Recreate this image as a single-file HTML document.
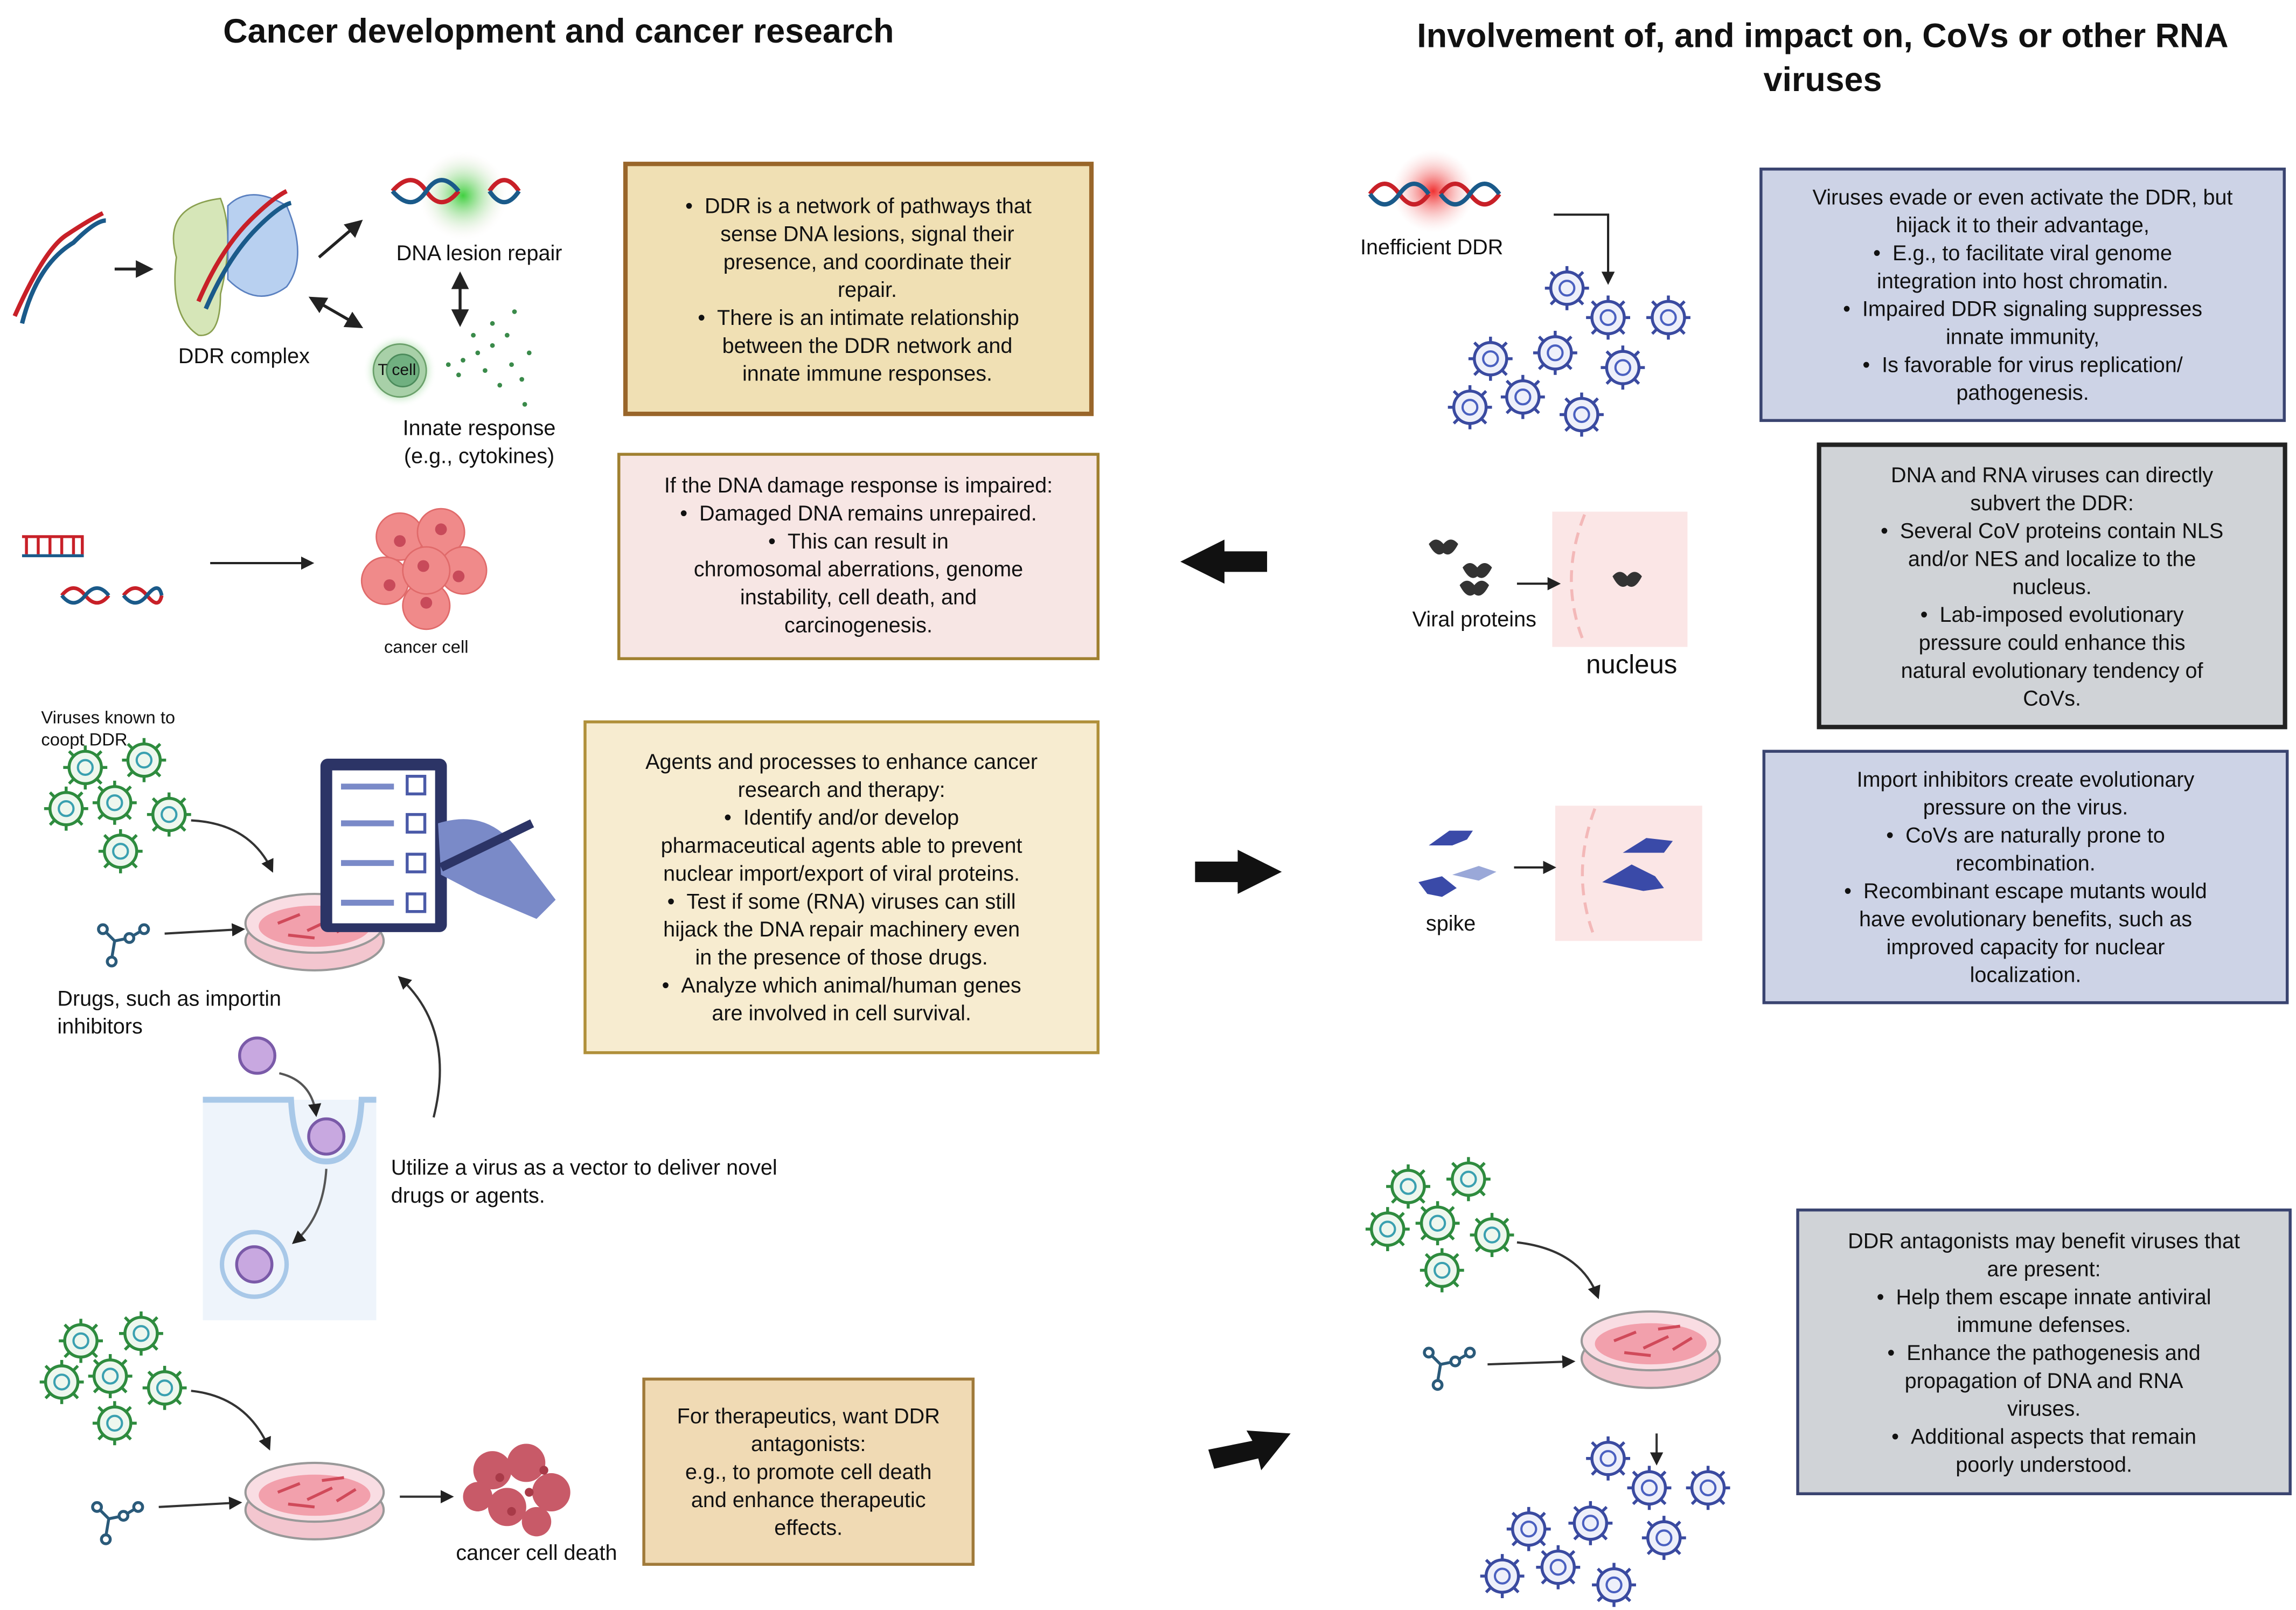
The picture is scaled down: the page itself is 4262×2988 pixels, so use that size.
<!DOCTYPE html>
<html><head><meta charset="utf-8"><style>
html,body{margin:0;padding:0;background:#fff;}
#w{position:relative;width:1562px;height:1095px;transform:scale(2.7286);transform-origin:0 0;font-family:"Liberation Sans",sans-serif;color:#111;}
.t{position:absolute;font-size:14.5px;line-height:19px;white-space:nowrap;}
.c{text-align:center;}
.box{position:absolute;box-sizing:border-box;text-align:center;font-size:14.5px;line-height:19px;white-space:nowrap;}
svg{position:absolute;left:0;top:0;}
h1{position:absolute;margin:0;font-size:23px;font-weight:bold;line-height:30px;text-align:center;white-space:nowrap;}
</style></head><body><div id="w">
<svg width="1562" height="1095" viewBox="0 0 1562 1095">
<defs>
<g id="vg"><circle r="11" fill="#eef7ee" stroke="#2e8b3e" stroke-width="2"/><g stroke="#2e8b3e" stroke-width="2"><line x1="0" y1="-11" x2="0" y2="-15"/><line x1="0" y1="11" x2="0" y2="15"/><line x1="-11" y1="0" x2="-15" y2="0"/><line x1="11" y1="0" x2="15" y2="0"/><line x1="8" y1="8" x2="11" y2="11"/><line x1="-8" y1="8" x2="-11" y2="11"/><line x1="8" y1="-8" x2="11" y2="-11"/><line x1="-8" y1="-8" x2="-11" y2="-11"/></g><circle r="5" fill="none" stroke="#3aa0b0" stroke-width="1.5"/></g>
<g id="vb"><circle r="11" fill="#eef0fa" stroke="#3a4aa0" stroke-width="2"/><g stroke="#3a4aa0" stroke-width="2"><line x1="0" y1="-11" x2="0" y2="-15"/><line x1="0" y1="11" x2="0" y2="15"/><line x1="-11" y1="0" x2="-15" y2="0"/><line x1="11" y1="0" x2="15" y2="0"/><line x1="8" y1="8" x2="11" y2="11"/><line x1="-8" y1="8" x2="-11" y2="11"/><line x1="8" y1="-8" x2="11" y2="-11"/><line x1="-8" y1="-8" x2="-11" y2="-11"/></g><circle r="5" fill="none" stroke="#4a60c0" stroke-width="1.5"/></g>
<g id="dish"><ellipse cx="0" cy="12" rx="47" ry="20" fill="#f3c6cf" stroke="#999" stroke-width="1.5"/><ellipse cx="0" cy="0" rx="47" ry="20" fill="#f9dde3" stroke="#999" stroke-width="1.5"/><ellipse cx="0" cy="2" rx="38" ry="14" fill="#f2a0ac"/><g stroke="#d04a5a" stroke-width="2"><line x1="-25" y1="0" x2="-10" y2="-6"/><line x1="-5" y1="5" x2="12" y2="-3"/><line x1="15" y1="6" x2="28" y2="-2"/><line x1="-18" y1="8" x2="0" y2="10"/><line x1="5" y1="-8" x2="20" y2="-10"/></g></g>
<g id="drug" stroke="#2a5a7a" stroke-width="2" fill="#fff"><line x1="0" y1="0" x2="8" y2="8"/><line x1="8" y1="8" x2="18" y2="6"/><line x1="18" y1="6" x2="28" y2="0"/><line x1="8" y1="8" x2="6" y2="20"/><circle cx="0" cy="0" r="3"/><circle cx="18" cy="6" r="3"/><circle cx="28" cy="0" r="3"/><circle cx="6" cy="22" r="3"/></g>
<marker id="ah" viewBox="0 0 10 10" refX="8" refY="5" markerWidth="6" markerHeight="6" orient="auto-start-reverse"><path d="M0 0L10 5L0 10z" fill="#222"/></marker>
<radialGradient id="gg"><stop offset="0" stop-color="#40d040"/><stop offset="1" stop-color="#f6e8e6" stop-opacity="0"/></radialGradient>
<radialGradient id="rg"><stop offset="0" stop-color="#f03030"/><stop offset="1" stop-color="#f8d0d0" stop-opacity="0"/></radialGradient>
<radialGradient id="tg"><stop offset="0.6" stop-color="#60c060" stop-opacity=".6"/><stop offset="1" stop-color="#fff" stop-opacity="0"/></radialGradient>
</defs>
<!-- top-left DNA -->
<path d="M10 215 Q30 170 45 160 Q60 150 70 145" stroke="#c82028" stroke-width="3" fill="none"/>
<path d="M15 220 Q25 180 50 165 Q65 150 72 150" stroke="#1a5a8a" stroke-width="3" fill="none"/>
<line x1="78" y1="183" x2="102" y2="183" stroke="#222" stroke-width="2" marker-end="url(#ah)"/>
<path d="M120 175 Q110 140 150 135 Q160 160 150 200 Q150 230 135 228 Q115 215 120 175z" fill="#d6e6b8" stroke="#8aa050"/>
<path d="M155 140 Q170 125 195 140 Q210 175 195 195 Q175 210 155 190z" fill="#b8d0f0" stroke="#5a80c0"/>
<path d="M135 205 Q150 170 170 150 Q185 135 195 130" stroke="#c82028" stroke-width="3" fill="none"/>
<path d="M140 210 Q155 175 175 155 Q190 140 198 138" stroke="#1a5a8a" stroke-width="3" fill="none"/>
<line x1="217" y1="175" x2="245" y2="151" stroke="#222" stroke-width="2" marker-end="url(#ah)"/>
<line x1="212" y1="203" x2="245" y2="222" stroke="#222" stroke-width="2" marker-end="url(#ah)" marker-start="url(#ah)"/>
<line x1="313" y1="187" x2="313" y2="220" stroke="#222" stroke-width="2" marker-end="url(#ah)" marker-start="url(#ah)"/>
<circle cx="315" cy="133" r="30" fill="url(#gg)"/>
<path d="M267 130 Q280 115 290 130 T312 130 M333 130 Q343 115 353 130" stroke="#c82028" stroke-width="3" fill="none"/>
<path d="M267 130 Q280 145 290 130 T312 130 M333 130 Q343 145 353 130" stroke="#1a5a8a" stroke-width="3" fill="none"/>
<circle cx="272" cy="252" r="25" fill="url(#tg)"/>
<circle cx="272" cy="252" r="18" fill="#a8d0a8" stroke="#6aa06a"/><circle cx="274" cy="252" r="11" fill="#70b080" stroke="#4a8a5a"/>
<g fill="#3a8a4a"><circle cx="305" cy="248" r="1.6"/><circle cx="315" cy="245" r="1.6"/><circle cx="325" cy="240" r="1.6"/><circle cx="335" cy="235" r="1.6"/><circle cx="345" cy="228" r="1.6"/><circle cx="312" cy="255" r="1.6"/><circle cx="330" cy="252" r="1.6"/><circle cx="348" cy="248" r="1.6"/><circle cx="340" cy="262" r="1.6"/><circle cx="355" cy="258" r="1.6"/><circle cx="322" cy="228" r="1.6"/><circle cx="350" cy="212" r="1.6"/><circle cx="357" cy="275" r="1.6"/><circle cx="335" cy="220" r="1.6"/><circle cx="360" cy="240" r="1.6"/></g>
<!-- row 2 -->
<g stroke="#c82028" stroke-width="2"><line x1="15" y1="365" x2="57" y2="365"/><line x1="18" y1="365" x2="18" y2="377"/><line x1="26" y1="365" x2="26" y2="377"/><line x1="34" y1="365" x2="34" y2="377"/><line x1="42" y1="365" x2="42" y2="377"/><line x1="50" y1="365" x2="50" y2="377"/><line x1="56" y1="365" x2="56" y2="377"/></g>
<line x1="15" y1="378" x2="57" y2="378" stroke="#1a5a8a" stroke-width="2"/>
<path d="M42 405 Q50 395 58 405 T74 405 M84 405 Q92 395 100 405 T110 405" stroke="#c82028" stroke-width="2.5" fill="none"/>
<path d="M42 405 Q50 415 58 405 T74 405 M84 405 Q92 415 100 405 T110 405" stroke="#1a5a8a" stroke-width="2.5" fill="none"/>
<line x1="143" y1="383" x2="212" y2="383" stroke="#222" stroke-width="1.5" marker-end="url(#ah)"/>
<g fill="#f08a8a" stroke="#e06a6a"><circle cx="272" cy="365" r="16"/><circle cx="300" cy="362" r="16"/><circle cx="315" cy="388" r="16"/><circle cx="262" cy="395" r="16"/><circle cx="290" cy="412" r="16"/><circle cx="290" cy="388" r="16"/></g>
<g fill="#c84a5a"><circle cx="272" cy="368" r="4"/><circle cx="300" cy="360" r="4"/><circle cx="312" cy="392" r="4"/><circle cx="265" cy="398" r="4"/><circle cx="290" cy="410" r="4"/><circle cx="288" cy="385" r="4"/></g>
<!-- block arrows -->
<path d="M803 382 L833 367 L833 375 L862 375 L862 389 L833 389 L833 397z" fill="#111"/>
<path d="M872 593 L842 578 L842 586 L813 586 L813 600 L842 600 L842 608z" fill="#111"/>
<path d="M878 975 L848 973 L852 980 L822 986 L826 999 L856 992 L858 1000z" fill="#111"/>
<!-- row 3 left -->
<use href="#vg" x="58" y="522" transform="scale(1)"/><use href="#vg" x="98" y="517"/><use href="#vg" x="45" y="550"/><use href="#vg" x="78" y="546"/><use href="#vg" x="115" y="554"/><use href="#vg" x="82" y="579"/>
<path d="M130 558 Q170 560 185 592" stroke="#333" stroke-width="1.5" fill="none" marker-end="url(#ah)"/>
<use href="#dish" x="214" y="628"/>
<use href="#drug" x="70" y="632"/>
<line x1="112" y1="635" x2="165" y2="632" stroke="#333" stroke-width="1.5" marker-end="url(#ah)"/>
<rect x="218" y="516" width="86" height="118" rx="5" fill="#2c3466"/><rect x="226" y="524" width="70" height="104" fill="#fff"/>
<g stroke="#7a8ac8" stroke-width="4"><line x1="232" y1="535" x2="268" y2="535"/><line x1="232" y1="560" x2="268" y2="560"/><line x1="232" y1="587" x2="268" y2="587"/><line x1="232" y1="614" x2="268" y2="614"/></g>
<g fill="none" stroke="#4a5aa8" stroke-width="2"><rect x="277" y="528" width="12" height="12"/><rect x="277" y="554" width="12" height="12"/><rect x="277" y="581" width="12" height="12"/><rect x="277" y="608" width="12" height="12"/></g>
<path d="M298 560 Q330 550 350 575 L378 612 L365 625 L325 608 L300 595z" fill="#7a8ac8"/>
<line x1="300" y1="590" x2="362" y2="560" stroke="#2c3466" stroke-width="6"/>
<path d="M295 760 Q310 700 272 665" stroke="#333" stroke-width="1.5" fill="none" marker-end="url(#ah)"/>
<rect x="138" y="748" width="118" height="150" fill="#eef4fb"/>
<path d="M138 748 L198 748 Q200 790 222 790 Q244 790 246 748 L256 748" stroke="#a8c8e8" stroke-width="4" fill="none"/>
<circle cx="175" cy="718" r="12" fill="#c8a8e0" stroke="#7a5aa8" stroke-width="2"/>
<circle cx="222" cy="773" r="12" fill="#c8a8e0" stroke="#7a5aa8" stroke-width="2"/>
<circle cx="173" cy="860" r="22" fill="none" stroke="#a8c8e8" stroke-width="3"/>
<circle cx="173" cy="860" r="12" fill="#c8a8e0" stroke="#7a5aa8" stroke-width="2"/>
<path d="M190 730 Q212 735 215 758" stroke="#555" stroke-width="1.5" fill="none" marker-end="url(#ah)"/>
<path d="M222 795 Q220 828 200 845" stroke="#555" stroke-width="1.5" fill="none" marker-end="url(#ah)"/>
<!-- row 4 left -->
<use href="#vg" x="55" y="912"/><use href="#vg" x="96" y="907"/><use href="#vg" x="42" y="940"/><use href="#vg" x="75" y="936"/><use href="#vg" x="112" y="944"/><use href="#vg" x="78" y="968"/>
<path d="M130 946 Q168 950 183 985" stroke="#333" stroke-width="1.5" fill="none" marker-end="url(#ah)"/>
<use href="#dish" x="214" y="1015"/>
<use href="#drug" x="66" y="1025"/>
<line x1="108" y1="1025" x2="163" y2="1022" stroke="#333" stroke-width="1.5" marker-end="url(#ah)"/>
<line x1="272" y1="1018" x2="307" y2="1018" stroke="#333" stroke-width="1.5" marker-end="url(#ah)"/>
<g fill="#c85a68"><circle cx="335" cy="1000" r="13"/><circle cx="358" cy="995" r="13"/><circle cx="375" cy="1015" r="13"/><circle cx="345" cy="1025" r="13"/><circle cx="325" cy="1018" r="10"/><circle cx="365" cy="1035" r="10"/></g>
<g fill="#a83a48"><circle cx="340" cy="1005" r="3"/><circle cx="360" cy="1015" r="3"/><circle cx="348" cy="1028" r="3"/><circle cx="370" cy="1000" r="3"/></g>
<!-- right top -->
<circle cx="975" cy="130" r="28" fill="url(#rg)"/>
<path d="M932 132 Q942 118 952 132 T972 132 M980 132 Q990 118 1000 132 T1020 132" stroke="#c82028" stroke-width="3" fill="none"/>
<path d="M932 132 Q942 146 952 132 T972 132 M980 132 Q990 146 1000 132 T1020 132" stroke="#1a5a8a" stroke-width="3" fill="none"/>
<path d="M1057 146 L1094 146 L1094 192" stroke="#222" stroke-width="1.5" fill="none" marker-end="url(#ah)"/>
<use href="#vb" x="1066" y="196"/><use href="#vb" x="1094" y="216"/><use href="#vb" x="1135" y="216"/><use href="#vb" x="1014" y="244"/><use href="#vb" x="1058" y="240"/><use href="#vb" x="1104" y="250"/><use href="#vb" x="1000" y="277"/><use href="#vb" x="1036" y="270"/><use href="#vb" x="1076" y="282"/>
<!-- right row 2 -->
<rect x="1056" y="348" width="92" height="92" fill="#fbe6e6"/>
<path d="M1078 350 Q1060 395 1078 438" stroke="#f3b8b8" stroke-width="2" stroke-dasharray="8 5" fill="none"/>
<g fill="#333"><path d="M972 370 q5 -6 10 0 q5 -6 10 0 q-5 10 -10 6 q-5 4 -10 -6z"/><path d="M995 386 q5 -6 10 0 q5 -6 10 0 q-5 10 -10 6 q-5 4 -10 -6z"/><path d="M993 398 q5 -6 10 0 q5 -6 10 0 q-5 10 -10 6 q-5 4 -10 -6z"/><path d="M1097 392 q5 -6 10 0 q5 -6 10 0 q-5 10 -10 6 q-5 4 -10 -6z"/></g>
<line x1="1032" y1="397" x2="1060" y2="397" stroke="#222" stroke-width="1.5" marker-end="url(#ah)"/>
<!-- right row 3 -->
<rect x="1058" y="548" width="100" height="92" fill="#fbe6e6"/>
<path d="M1085 550 Q1068 595 1085 638" stroke="#f3b8b8" stroke-width="2" stroke-dasharray="8 5" fill="none"/>
<g fill="#3a4aa8"><path d="M972 575 l14 -10 l16 0 l-4 6 l-10 4z"/><path d="M965 600 l16 -4 l10 8 l-10 6 l-10 -2z"/><path d="M1104 580 l16 -10 l18 2 l-6 8z"/><path d="M1090 600 l20 -12 l16 8 l6 8 l-14 2z"/></g>
<path d="M988 595 l18 -6 l12 4 l-12 6z" fill="#9aa8d8"/>
<line x1="1030" y1="590" x2="1057" y2="590" stroke="#222" stroke-width="1.5" marker-end="url(#ah)"/>
<!-- right bottom -->
<use href="#vg" x="958" y="807"/><use href="#vg" x="999" y="802"/><use href="#vg" x="944" y="836"/><use href="#vg" x="978" y="832"/><use href="#vg" x="1015" y="840"/><use href="#vg" x="981" y="864"/>
<path d="M1032 845 Q1075 850 1087 882" stroke="#333" stroke-width="1.5" fill="none" marker-end="url(#ah)"/>
<use href="#dish" x="1123" y="912"/>
<use href="#drug" x="972" y="920"/>
<line x1="1012" y1="928" x2="1070" y2="926" stroke="#333" stroke-width="1.5" marker-end="url(#ah)"/>
<line x1="1127" y1="975" x2="1127" y2="995" stroke="#333" stroke-width="1.5" marker-end="url(#ah)"/>
<use href="#vb" x="1094" y="992"/><use href="#vb" x="1122" y="1012"/><use href="#vb" x="1162" y="1012"/><use href="#vb" x="1040" y="1040"/><use href="#vb" x="1082" y="1036"/><use href="#vb" x="1132" y="1046"/><use href="#vb" x="1022" y="1072"/><use href="#vb" x="1060" y="1066"/><use href="#vb" x="1098" y="1078"/>
</svg>

<h1 style="left:80px;top:6px;width:600px;">Cancer development and cancer research</h1>
<h1 style="left:940px;top:9px;width:600px;">Involvement of, and impact on, CoVs or other RNA<br>viruses</h1>

<div class="t c" style="left:246px;top:164px;width:160px;">DNA lesion repair</div>
<div class="t c" style="left:96px;top:234px;width:140px;">DDR complex</div>
<div class="t" style="left:257px;top:245px;font-size:11px;line-height:14px;">T cell</div>
<div class="t c" style="left:246px;top:283px;width:160px;">Innate response<br>(e.g., cytokines)</div>
<div class="t c" style="left:240px;top:433px;width:100px;font-size:12px;line-height:15px;">cancer cell</div>
<div class="t" style="left:28px;top:481px;font-size:12px;line-height:15px;">Viruses known to<br>coopt DDR</div>
<div class="t" style="left:39px;top:671px;">Drugs, such as importin<br>inhibitors</div>
<div class="t" style="left:266px;top:786px;">Utilize a virus as a vector to deliver novel<br>drugs or agents.</div>
<div class="t c" style="left:295px;top:1048px;width:140px;">cancer cell death</div>
<div class="t c" style="left:904px;top:160px;width:140px;">Inefficient DDR</div>
<div class="t c" style="left:943px;top:413px;width:120px;">Viral proteins</div>
<div class="t c" style="left:1060px;top:441px;width:100px;font-size:18px;line-height:22px;">nucleus</div>
<div class="t c" style="left:947px;top:620px;width:80px;">spike</div>

<div class="box" style="left:424px;top:110px;width:320px;height:173px;background:#f0e0b4;border:3px solid #99662a;padding-top:19px;">•&nbsp;&nbsp;DDR is a network of pathways that<br>&nbsp;&nbsp;&nbsp;sense DNA lesions, signal their<br>&nbsp;&nbsp;&nbsp;presence, and coordinate their<br>&nbsp;&nbsp;&nbsp;repair.<br>•&nbsp;&nbsp;There is an intimate relationship<br>&nbsp;&nbsp;&nbsp;between the DDR network and<br>&nbsp;&nbsp;&nbsp;innate immune responses.</div>
<div class="box" style="left:420px;top:308px;width:328px;height:141px;background:#f7e6e4;border:2px solid #a08030;padding-top:12px;">If the DNA damage response is impaired:<br>•&nbsp;&nbsp;Damaged DNA remains unrepaired.<br>•&nbsp;&nbsp;This can result in<br>chromosomal aberrations, genome<br>instability, cell death, and<br>carcinogenesis.</div>
<div class="box" style="left:397px;top:490px;width:351px;height:227px;background:#f7ecd0;border:2px solid #b0903a;padding-top:18px;">Agents and processes to enhance cancer<br>research and therapy:<br>•&nbsp;&nbsp;Identify and/or develop<br>pharmaceutical agents able to prevent<br>nuclear import/export of viral proteins.<br>•&nbsp;&nbsp;Test if some (RNA) viruses can still<br>hijack the DNA repair machinery even<br>in the presence of those drugs.<br>•&nbsp;&nbsp;Analyze which animal/human genes<br>are involved in cell survival.</div>
<div class="box" style="left:437px;top:937px;width:226px;height:128px;background:#f0dab4;border:2px solid #a07a3a;padding-top:16px;">For therapeutics, want DDR<br>antagonists:<br>e.g., to promote cell death<br>and enhance therapeutic<br>effects.</div>
<div class="box" style="left:1197px;top:114px;width:358px;height:173px;background:#cdd3e6;border:2px solid #3a4470;padding-top:10px;">Viruses evade or even activate the DDR, but<br>hijack it to their advantage,<br>•&nbsp;&nbsp;E.g., to facilitate viral genome<br>integration into host chromatin.<br>•&nbsp;&nbsp;Impaired DDR signaling suppresses<br>innate immunity,<br>•&nbsp;&nbsp;Is favorable for virus replication/<br>pathogenesis.</div>
<div class="box" style="left:1236px;top:301px;width:320px;height:195px;background:#d0d3d7;border:3px solid #222;padding-top:11px;">DNA and RNA viruses can directly<br>subvert the DDR:<br>•&nbsp;&nbsp;Several CoV proteins contain NLS<br>and/or NES and localize to the<br>nucleus.<br>•&nbsp;&nbsp;Lab-imposed evolutionary<br>pressure could enhance this<br>natural evolutionary tendency of<br>CoVs.</div>
<div class="box" style="left:1199px;top:510px;width:358px;height:173px;background:#cdd3e6;border:2px solid #3a4470;padding-top:10px;">Import inhibitors create evolutionary<br>pressure on the virus.<br>•&nbsp;&nbsp;CoVs are naturally prone to<br>recombination.<br>•&nbsp;&nbsp;Recombinant escape mutants would<br>have evolutionary benefits, such as<br>improved capacity for nuclear<br>localization.</div>
<div class="box" style="left:1222px;top:822px;width:337px;height:195px;background:#d0d3d7;border:2px solid #3a4470;padding-top:12px;">DDR antagonists may benefit viruses that<br>are present:<br>•&nbsp;&nbsp;Help them escape innate antiviral<br>immune defenses.<br>•&nbsp;&nbsp;Enhance the pathogenesis and<br>propagation of DNA and RNA<br>viruses.<br>•&nbsp;&nbsp;Additional aspects that remain<br>poorly understood.</div>
</div></body></html>
